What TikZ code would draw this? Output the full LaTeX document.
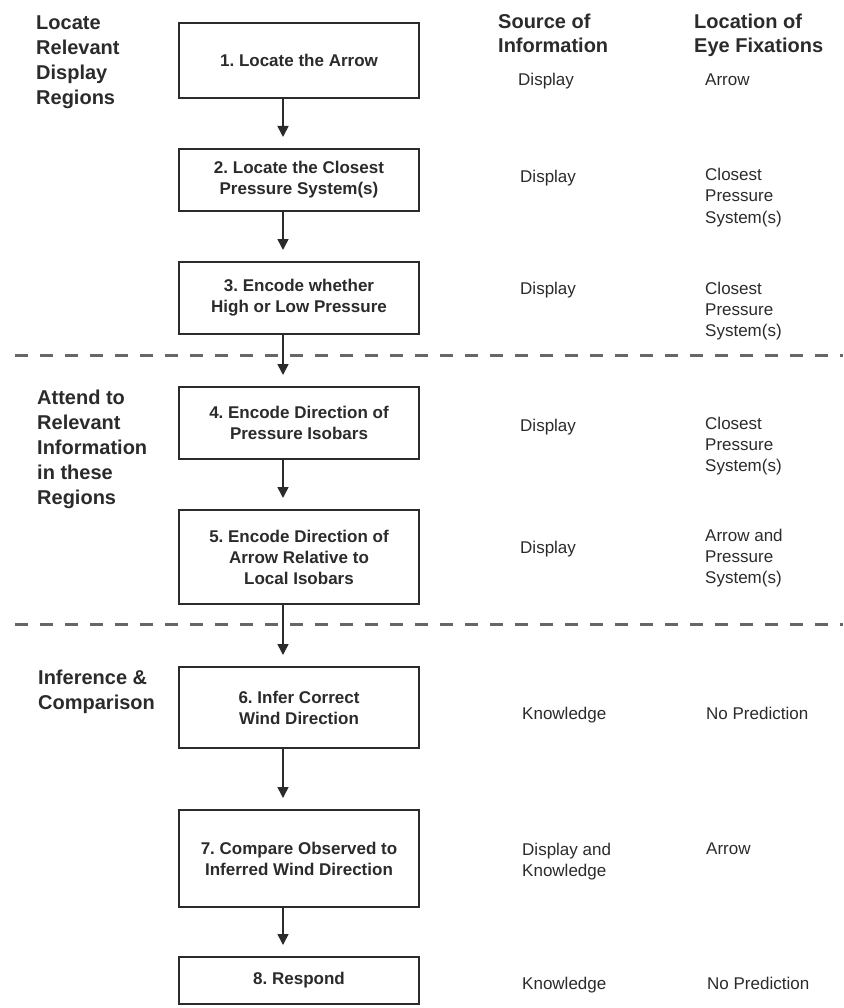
\documentclass[tikz,border=0pt]{standalone}
\usepackage{fontspec}
\setmainfont{Liberation Sans}
\frenchspacing
\usetikzlibrary{arrows.meta}
\definecolor{ink}{HTML}{2B2B2B}
\definecolor{dashc}{HTML}{666666}
\tikzset{
  stepbox/.style={draw=ink, line width=2pt, minimum width=240pt, inner sep=0pt,
    align=center, text=ink, font=\fontsize{17}{21}\selectfont\bfseries},
  flow/.style={draw=ink, line width=1.6pt, -{Triangle[width=11pt,length=11pt]}, shorten >=11pt},
  sectlabel/.style={anchor=base west, inner sep=0pt, align=left, text=ink,
    font=\fontsize{20}{25}\selectfont\bfseries},
  colhead/.style={anchor=base west, inner sep=0pt, align=left, text=ink,
    font=\fontsize{20}{24}\selectfont\bfseries},
  cell/.style={anchor=base west, inner sep=0pt, align=left, text=ink,
    font=\fontsize{17}{21}\selectfont},
  divider/.style={draw=dashc, line width=3pt, dash pattern=on 13pt off 12pt}
}
\begin{document}
\begin{tikzpicture}[x=1pt,y=-1pt]
\useasboundingbox (0,0) rectangle (843,1008);
\fill[white] (0,0) rectangle (843,1008);

% dividers
\coordinate (d1a) at (15,355); \coordinate (d1b) at (843,355);
\coordinate (d2a) at (15,624); \coordinate (d2b) at (843,624);
\draw[divider] (d1a) -- (d1b);
\draw[divider] (d2a) -- (d2b);

% boxes
\node[stepbox, minimum height=75pt] (b1) at (299,60.5) {1. Locate the Arrow};
\node[stepbox, minimum height=62pt] (b2) at (299,180) {2. Locate the Closest\\Pressure System(s)};
\node[stepbox, minimum height=72pt] (b3) at (299,298) {3. Encode whether\\High or Low Pressure};
\node[stepbox, minimum height=72pt] (b4) at (299,423) {4. Encode Direction of\\Pressure Isobars};
\node[stepbox, minimum height=94pt] (b5) at (299,557) {5. Encode Direction of\\Arrow Relative to\\Local Isobars};
\node[stepbox, minimum height=81pt] (b6) at (299,707.5) {6. Infer Correct\\Wind Direction};
\node[stepbox, minimum height=97pt] (b7) at (299,858.5) {7. Compare Observed to\\Inferred Wind Direction};
\node[stepbox, minimum height=47pt] (b8) at (299,980.5) {8. Respond};

% connectors
\foreach \a/\b in {b1/b2,b2/b3,b3/b4,b4/b5,b5/b6,b6/b7,b7/b8}
  \draw[flow] ([xshift=-16pt]\a.south) -- ([xshift=-16pt]\b.north);

% section labels (base = baseline of last line)
\node[sectlabel] (s1) at (36,105) {Locate\\Relevant\\Display\\Regions};
\node[sectlabel] (s2) at (37,504) {Attend to\\Relevant\\Information\\in these\\Regions};
\node[sectlabel] (s3) at (38,709) {Inference \&\\Comparison};

% column headers
\node[colhead] (h1) at (498,53) {Source of\\Information};
\node[colhead] (h2) at (694,53) {Location of\\Eye Fixations};

% cells
\node[cell] (c1s) at (518,86) {Display};
\node[cell] (c1l) at (705,86) {Arrow};
\node[cell] (c2s) at (520,183) {Display};
\node[cell] (c2l) at (705,223) {Closest\\Pressure\\System(s)};
\node[cell] (c3s) at (520,294) {Display};
\node[cell] (c3l) at (705,336) {Closest\\Pressure\\System(s)};
\node[cell] (c4s) at (520,431) {Display};
\node[cell] (c4l) at (705,471) {Closest\\Pressure\\System(s)};
\node[cell] (c5s) at (520,553) {Display};
\node[cell] (c5l) at (705,583) {Arrow and\\Pressure\\System(s)};
\node[cell] (c6s) at (522,719) {Knowledge};
\node[cell] (c6l) at (706,719) {No Prediction};
\node[cell] (c7s) at (522,876) {Display and\\Knowledge};
\node[cell] (c7l) at (706,854) {Arrow};
\node[cell] (c8s) at (522,989) {Knowledge};
\node[cell] (c8l) at (707,989) {No Prediction};
\end{tikzpicture}
\end{document}
